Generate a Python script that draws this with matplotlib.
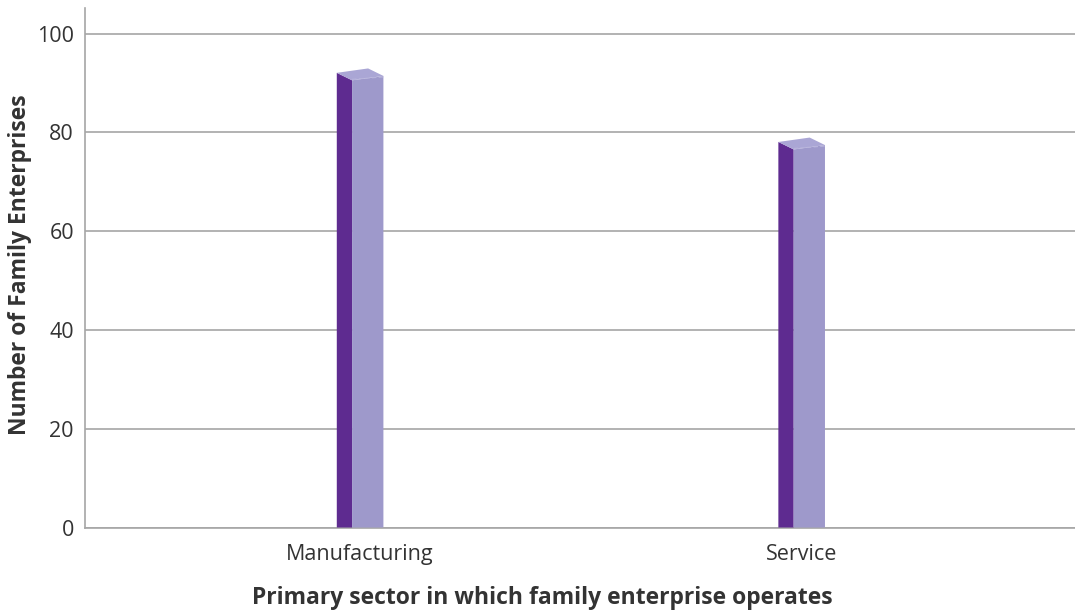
import matplotlib.pyplot as plt
from matplotlib.patches import Polygon

# Family enterprises by primary sector
sectors = ['Manufacturing', 'Service']
counts = [91, 77]
y_ticks = [0, 20, 40, 60, 80, 100]

plt.rcParams['font.family'] = ['Open Sans', 'DejaVu Sans']

fig = plt.figure(figsize=(10.75, 6.13), dpi=100)
ax = fig.add_axes([85 / 1075, 85.5 / 613, 990 / 1075, 519.5 / 613])

ax.set_xlim(-0.623, 1.619)
ax.set_ylim(0, 105.2)

# pixel -> data unit factors for the pseudo 3D column shapes
px_x = 1 / 441.5
px_y = 1 / 4.94

side_color = '#5e2b90'
front_color = '#9e99cb'
top_color = '#aaa6d5'

for i, v in enumerate(counts):
    fl = i - 8 * px_x          # front face left
    fr = i + 23.3 * px_x       # front face right
    dx = -15.3 * px_x          # depth offset to the back
    dy = 7.5 * px_y
    tl = v - 2.2 * px_y        # front face top, left corner
    tr = v + 2.2 * px_y        # front face top, right corner
    # side face
    ax.add_patch(Polygon([(fl + dx, 0), (fl, 0), (fl, tl), (fl + dx, tl + dy)],
                         closed=True, facecolor=side_color, edgecolor='none', zorder=3))
    # front face
    ax.add_patch(Polygon([(fl, 0), (fr, 0), (fr, tr), (fl, tl)],
                         closed=True, facecolor=front_color, edgecolor='none', zorder=3))
    # top face
    ax.add_patch(Polygon([(fl, tl), (fr, tr), (fr + dx, tr + dy), (fl + dx, tl + dy)],
                         closed=True, facecolor=top_color, edgecolor='none', zorder=3))
    ax.plot([fl, fr], [tl + 0.2, tr - 0.2], color='#b8b4dc', lw=0.8, ls=(0, (4, 2)), zorder=4)

ax.set_yticks(y_ticks)
ax.set_xticks(range(len(sectors)))
ax.set_xticklabels(sectors)
ax.tick_params(length=0, labelsize=15.5, colors='#333333')
ax.tick_params(axis='y', pad=8)
ax.tick_params(axis='x', pad=12)
ax.yaxis.grid(True, color='#a6a6a6', lw=1.2)
ax.set_axisbelow(True)

for s in ['top', 'right']:
    ax.spines[s].set_visible(False)
for s in ['left', 'bottom']:
    ax.spines[s].set_color('#a6a6a6')
    ax.spines[s].set_linewidth(1.2)

ax.set_ylabel('Number of Family Enterprises', fontsize=16.5, fontweight='bold',
              color='#333333', va='center')
ax.set_xlabel('Primary sector in which family enterprise operates', fontsize=16.5,
              fontweight='bold', color='#333333', va='center')
ax.xaxis.set_label_coords((542 - 85) / 990, -(598 - 527.5) / 519.5)
ax.yaxis.set_label_coords(-(85 - 20) / 990, (527.5 - 265) / 519.5)

fig.savefig('out.png', dpi=100)
